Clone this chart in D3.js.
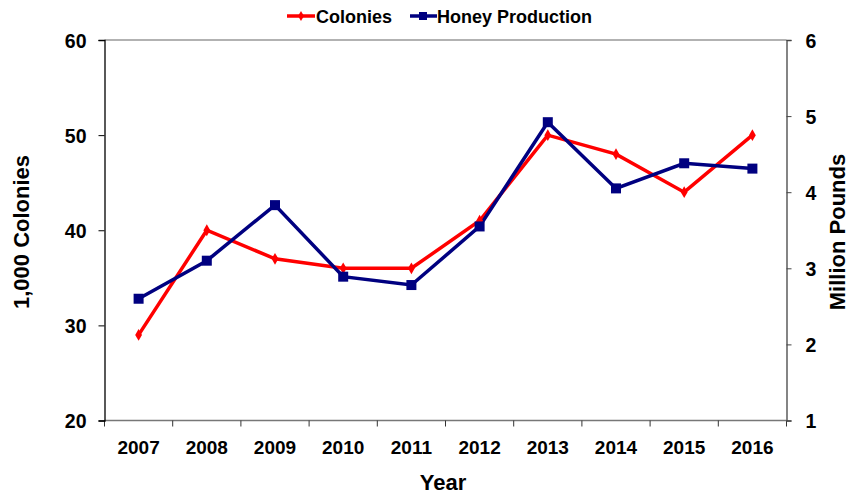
<!DOCTYPE html>
<html>
<head>
<meta charset="utf-8">
<script src="https://cdnjs.cloudflare.com/ajax/libs/d3/7.8.5/d3.min.js"></script>
<style>
  body { margin: 0; background: #fff; }
  svg text { font-family: "Liberation Sans", Arial, sans-serif; font-weight: bold; fill: #000; }
</style>
</head>
<body>
<svg width="850" height="494"></svg>
<script>
// data
var years = ['2007','2008','2009','2010','2011','2012','2013','2014','2015','2016'];
var colonies = [29, 40, 37, 36, 36, 41, 50, 48, 44, 50];          // 1,000 colonies
var honey = [2.60, 3.10, 3.83, 2.89, 2.78, 3.55, 4.92, 4.05, 4.38, 4.31]; // million pounds
var leftTicks = [20, 30, 40, 50, 60];
var rightTicks = [1, 2, 3, 4, 5, 6];

var svg = d3.select('svg');
var plotL = 104.5, plotR = 786.5, plotT = 40, plotB = 420.5;

var x = d3.scaleBand().domain(years).range([plotL, plotR]);
var yL = d3.scaleLinear().domain([20, 60]).range([plotB, plotT]);
var yR = d3.scaleLinear().domain([1, 6]).range([plotB, plotT]);

// frame line on top
svg.append('line').attr('x1', plotL).attr('x2', plotR).attr('y1', plotT).attr('y2', plotT)
   .attr('stroke', '#999').attr('stroke-width', 1.5);

// x axis: ticks at band edges
var edges = years.map(function (d) { return x(d); }).concat([plotR]);
svg.append('line').attr('x1', plotL).attr('x2', plotR).attr('y1', plotB).attr('y2', plotB)
   .attr('stroke', '#777').attr('stroke-width', 1.5);
svg.selectAll('.xt').data(edges).enter().append('line')
   .attr('x1', function (d) { return d; }).attr('x2', function (d) { return d; })
   .attr('y1', plotB).attr('y2', plotB + 6)
   .attr('stroke', '#333').attr('stroke-width', 1);
svg.selectAll('.xl').data(years).enter().append('text')
   .attr('x', function (d) { return x(d) + x.bandwidth() / 2; })
   .attr('y', 454).attr('text-anchor', 'middle').style('font-size', '19px')
   .text(function (d) { return d; });

// left axis
var gl = svg.append('g').attr('transform', 'translate(' + plotL + ',0)')
   .call(d3.axisLeft(yL).tickValues(leftTicks).tickSize(6).tickPadding(12));
gl.select('.domain').attr('stroke', '#000').attr('stroke-width', 1.3);
gl.selectAll('.tick line').attr('stroke', '#000');
gl.selectAll('.tick text').style('font-size', '19.5px').attr('dy', '0.36em');

// right axis
var gr = svg.append('g').attr('transform', 'translate(' + plotR + ',0)')
   .call(d3.axisRight(yR).tickValues(rightTicks).tickFormat(d3.format('d')).tickSize(5).tickPadding(14));
gr.select('.domain').attr('stroke', '#444').attr('stroke-width', 1.3);
gr.selectAll('.tick line').attr('stroke', '#444');
gr.selectAll('.tick text').style('font-size', '19.5px').attr('dy', '0.36em');

// axis titles
svg.append('text').attr('x', 443).attr('y', 490).attr('text-anchor', 'middle')
   .style('font-size', '22px').text('Year');
svg.append('text').attr('transform', 'translate(29,232) rotate(-90)').attr('text-anchor', 'middle')
   .style('font-size', '22px').text('1,000 Colonies');
svg.append('text').attr('transform', 'translate(845,232) rotate(-90)').attr('text-anchor', 'middle')
   .style('font-size', '22px').text('Million Pounds');

// lines
var cx = function (d, i) { return x(years[i]) + x.bandwidth() / 2; };
var lineL = d3.line().x(cx).y(function (d) { return yL(d); });
var lineR = d3.line().x(cx).y(function (d) { return yR(d); });

svg.append('path').datum(colonies).attr('d', lineL)
   .attr('fill', 'none').attr('stroke', '#ff0000').attr('stroke-width', 3.5);
svg.append('path').datum(honey).attr('d', lineR)
   .attr('fill', 'none').attr('stroke', '#000080').attr('stroke-width', 3.5);

svg.selectAll('.dm').data(colonies).enter().append('path')
   .attr('d', d3.symbol().type(d3.symbolDiamond).size(40))
   .attr('transform', function (d, i) { return 'translate(' + cx(d, i) + ',' + yL(d) + ')'; })
   .attr('fill', '#ff0000');
svg.selectAll('.sq').data(honey).enter().append('rect')
   .attr('x', function (d, i) { return cx(d, i) - 5; })
   .attr('y', function (d) { return yR(d) - 5; })
   .attr('width', 10).attr('height', 10).attr('fill', '#000080');

// legend
var leg = svg.append('g');
leg.append('line').attr('x1', 287).attr('x2', 315).attr('y1', 16).attr('y2', 16)
   .attr('stroke', '#ff0000').attr('stroke-width', 3.5);
leg.append('path').attr('d', d3.symbol().type(d3.symbolDiamond).size(30))
   .attr('transform', 'translate(301,16)').attr('fill', '#ff0000');
leg.append('text').attr('x', 316).attr('y', 23).style('font-size', '18px').text('Colonies');
leg.append('line').attr('x1', 410).attr('x2', 437).attr('y1', 16).attr('y2', 16)
   .attr('stroke', '#000080').attr('stroke-width', 3.5);
leg.append('rect').attr('x', 419).attr('y', 12).attr('width', 8).attr('height', 8).attr('fill', '#000080');
leg.append('text').attr('x', 437).attr('y', 23).style('font-size', '18px').text('Honey Production');
</script>
</body>
</html>
